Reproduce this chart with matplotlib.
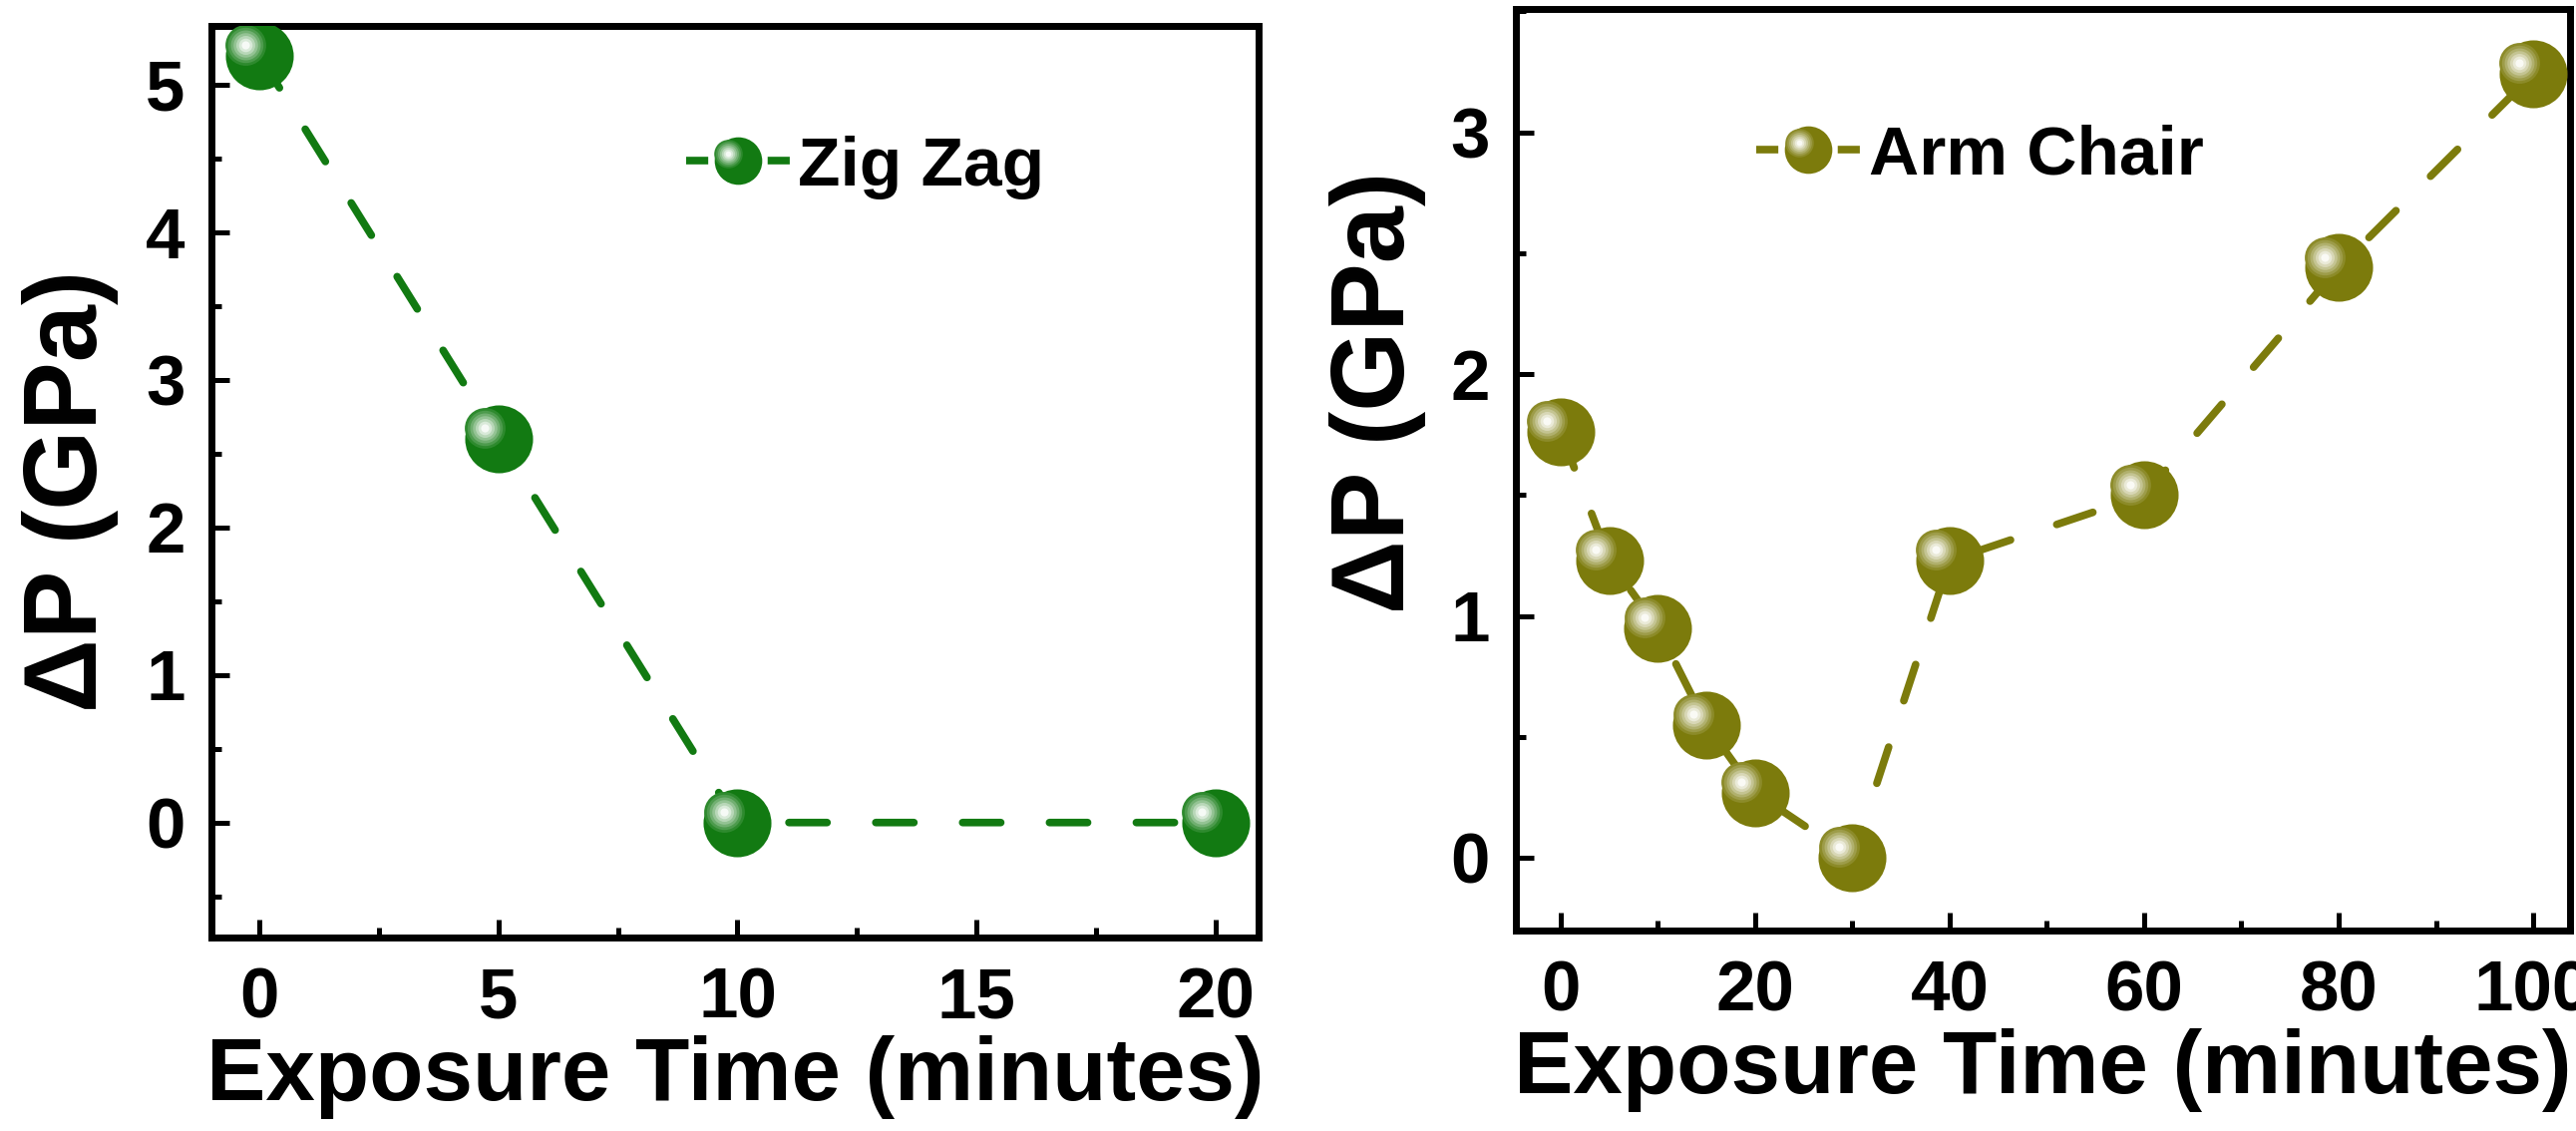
# two panel plot: pressure change vs exposure time, zig zag and arm chair
import numpy as np
import matplotlib
matplotlib.use('Agg')
import matplotlib.pyplot as plt
import matplotlib.transforms as mtransforms
from matplotlib.lines import Line2D
from matplotlib.legend_handler import HandlerLine2D
from matplotlib.ticker import MultipleLocator
from matplotlib.colors import to_rgb

plt.rcParams['font.family'] = ['Liberation Sans', 'DejaVu Sans']
plt.rcParams['font.weight'] = 'bold'

# data
zz_time = [0, 5, 10, 20]
zz_dp = [5.2, 2.6, 0.0, 0.0]

ac_time = [0, 5, 10, 15, 20, 30, 40, 60, 80, 100]
ac_dp = [1.76, 1.23, 0.95, 0.55, 0.27, 0.0, 1.23, 1.50, 2.44, 3.24]

zz_color = '#127a12'
ac_color = '#7c7b0c'

ms = 49
lw = 5.5
# glow layers for the shiny sphere look: (relative size, whiteness)
glow = [(0.60, 0.12), (0.52, 0.25), (0.44, 0.4), (0.36, 0.55),
        (0.28, 0.7), (0.20, 0.84), (0.12, 0.96)]
hl_dx, hl_dy = -0.2, 0.16   # highlight shift, fraction of marker size


def blend(c, f):
    r, g, b = to_rgb(c)
    return (r + (1 - r) * f, g + (1 - g) * f, b + (1 - b) * f)


class SphereHandler(HandlerLine2D):
    # legend marker with the same highlight
    def create_artists(self, legend, orig_handle, xdescent, ydescent,
                       width, height, fontsize, trans):
        arts = super().create_artists(legend, orig_handle, xdescent, ydescent,
                                      width, height, fontsize, trans)
        ln = arts[-1]
        xd = ln.get_xdata()
        x0 = 0.5 * (xd[0] + xd[-1])
        y0 = ln.get_ydata()[0]
        size = ln.get_markersize()
        col = orig_handle.get_color()
        for s, f in glow:
            h = Line2D([x0 + hl_dx * size], [y0 + hl_dy * size], ls='none',
                       marker='o', ms=size * s, mfc=blend(col, f), mew=0)
            h.set_transform(trans)
            arts.append(h)
        return arts


def sphere_plot(ax, x, y, color):
    ax.plot(x, y, color=color, lw=lw, dashes=(5.0, 6.4),
            dash_capstyle='round', marker='o', ms=ms,
            mfc=color, mec=color, mew=0, zorder=3)
    shift = mtransforms.ScaledTranslation(hl_dx * ms / 72, hl_dy * ms / 72,
                                          ax.figure.dpi_scale_trans)
    for s, f in glow:
        ax.plot(x, y, ls='none', marker='o', ms=ms * s,
                mfc=blend(color, f), mew=0,
                transform=ax.transData + shift, zorder=4)


def add_legend(ax, color, label, xy):
    proxy = Line2D([], [], color=color, lw=lw, dashes=(2.9, 7.8),
                   dash_capstyle='butt', marker='o', ms=ms, mfc=color, mew=0)
    ax.legend([proxy], [label], loc='center left', bbox_to_anchor=xy,
              frameon=False, fontsize=50, handlelength=1.5,
              handletextpad=0.12, markerscale=0.7, borderpad=0,
              borderaxespad=0, handler_map={Line2D: SphereHandler()})


def style_axes(ax, ylab_xy):
    for sp in ax.spines.values():
        sp.set_linewidth(5)
    ax.tick_params(which='both', direction='in', top=False, right=False,
                   labelsize=51, width=3.6)
    ax.tick_params(which='major', length=13)
    ax.tick_params(which='minor', length=7)
    ax.tick_params(axis='x', pad=21)
    ax.tick_params(axis='y', pad=19)
    ax.set_xlabel('Exposure Time (minutes)', fontsize=64, fontweight='bold',
                  labelpad=2)
    ax.set_ylabel('ΔP (GPa)', fontsize=74, fontweight='bold')
    ax.yaxis.set_label_coords(*ylab_xy)


fig = plt.figure(figsize=(25.83, 11.34), dpi=100)

ax1 = fig.add_axes([0.0821, 0.171, 0.4065, 0.806])
sphere_plot(ax1, zz_time, zz_dp, zz_color)
ax1.set_xlim(-1, 20.9)
ax1.set_ylim(-0.78, 5.4)
ax1.xaxis.set_major_locator(MultipleLocator(5))
ax1.xaxis.set_minor_locator(MultipleLocator(2.5))
ax1.yaxis.set_major_locator(MultipleLocator(1))
ax1.yaxis.set_minor_locator(MultipleLocator(0.5))
style_axes(ax1, (-0.089, 0.49))
add_legend(ax1, zz_color, 'Zig Zag', (0.453, 0.845))

ax2 = fig.add_axes([0.5885, 0.1772, 0.4092, 0.815])
sphere_plot(ax2, ac_time, ac_dp, ac_color)
ax2.set_xlim(-4.6, 103.8)
ax2.set_ylim(-0.3, 3.51)
ax2.xaxis.set_major_locator(MultipleLocator(20))
ax2.xaxis.set_minor_locator(MultipleLocator(10))
ax2.yaxis.set_major_locator(MultipleLocator(1))
ax2.yaxis.set_minor_locator(MultipleLocator(0.5))
style_axes(ax2, (-0.085, 0.584))
add_legend(ax2, ac_color, 'Arm Chair', (0.228, 0.84))

fig.savefig('out.png', dpi=100)
